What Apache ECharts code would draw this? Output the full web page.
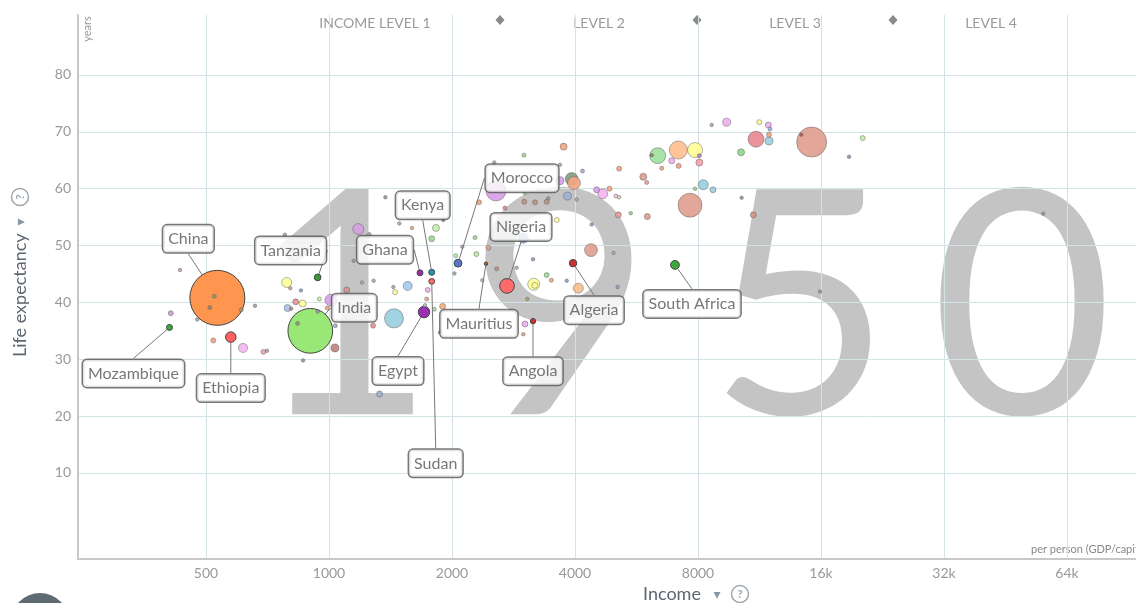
<!DOCTYPE html>
<html>
<head>
<meta charset="utf-8">
<script src="https://cdn.jsdelivr.net/npm/echarts@6/dist/echarts.min.js"></script>
<style>
  html, body { margin: 0; padding: 0; background: #fff; }
  #app { width: 1136px; height: 603px; }
</style>
</head>
<body>
<div id="app"></div>
<script>
const year = '1950';
const incomeTicks = [500, 1000, 2000, 4000, 8000, 16000, 32000, 64000];
const lifeTicks = [10, 20, 30, 40, 50, 60, 70, 80];
const levelNames = ['INCOME LEVEL 1', 'LEVEL 2', 'LEVEL 3', 'LEVEL 4'];

// countries with a callout
const labelNames = ['Mozambique', 'China', 'Ethiopia', 'Tanzania', 'India', 'Ghana', 'Kenya', 'Egypt',
  'Sudan', 'Mauritius', 'Morocco', 'Nigeria', 'Angola', 'Algeria', 'South Africa'];
const labelIncome = [407, 533, 575, 938, 900, 1670, 1784, 1708, 1784, 2422, 2069, 2727, 3157, 3956, 7027];
const labelLife = [35.6, 40.8, 33.9, 44.4, 35.0, 45.2, 45.3, 38.3, 43.7, 46.8, 46.9, 42.9, 36.7, 46.9, 46.6];
const labelPop = [6.5, 548, 20, 8, 362, 6.5, 6.5, 24, 6, 0.5, 11, 39, 5, 10, 14];

// all the other countries
const otherIncome = [432, 410, 524, 511, 610, 521, 616, 691, 705, 788, 804, 854, 829, 862, 792, 808, 947, 1011,
  990, 938, 1105, 1036, 1034, 1282, 864, 838, 1179, 1374, 1149, 1204, 1286, 1451, 1437, 1442, 1558, 1744, 1734,
  1717, 1897, 1810, 1869, 1330, 2372, 2573, 2880, 3410, 3500, 3170, 3190, 3057, 3018, 2990, 3818, 1596, 1827,
  1784, 1904, 1486, 2329, 2538, 3000, 2563, 2696, 2277, 2120, 2042, 2294, 2454, 2027, 3157, 2990, 3608, 3193,
  3410, 3006, 3441, 3018, 3675, 3752, 3926, 3977, 3675, 3835, 4039, 4173, 5130, 4377, 4970, 5476, 5105, 4519,
  4675, 4858, 5039, 5130, 4076, 5088, 4395, 8641, 9402, 11300, 11890, 12000, 11935, 11935, 11095, 15180, 14320,
  20240, 18740, 10197, 7868, 7160, 6373, 6898, 6520, 7176, 8061, 8061, 5877, 5992, 8242, 8705, 7868, 7648, 10232,
  10929, 6012, 15911, 55970, 659, 476, 1255, 780, 6164];
const otherLife = [45.7, 38.1, 41.1, 39.1, 38.7, 33.3, 32.0, 31.3, 31.5, 43.5, 42.5, 42.1, 40.1, 39.8, 39.0, 38.9,
  40.6, 40.4, 39.0, 38.4, 42.2, 35.9, 32.0, 35.9, 29.8, 36.3, 52.9, 58.5, 47.3, 43.5, 43.8, 41.8, 42.7, 37.2, 42.9,
  42.2, 40.6, 39.5, 39.3, 38.8, 34.7, 23.9, 43.9, 45.9, 46.1, 44.8, 43.9, 43.2, 43.0, 40.6, 36.2, 34.4, 43.8, 53.1,
  53.1, 51.2, 54.5, 53.9, 57.6, 64.6, 65.9, 59.6, 56.6, 51.4, 49.8, 48.2, 48.5, 49.6, 45.1, 47.6, 51.3, 54.5, 57.6,
  57.7, 57.7, 58.3, 59.2, 64.2, 67.4, 61.7, 61.0, 61.4, 58.7, 58.1, 63.1, 63.5, 49.2, 48.7, 55.7, 55.4, 59.8, 59.1,
  60.0, 58.7, 58.5, 42.5, 42.7, 53.7, 71.2, 71.7, 71.7, 71.2, 70.5, 69.5, 68.4, 68.7, 68.2, 69.5, 68.9, 65.6, 66.4,
  66.8, 66.8, 65.8, 64.9, 63.6, 64.0, 64.6, 65.8, 62.1, 61.1, 60.7, 59.8, 60.0, 57.1, 58.4, 55.4, 55.1, 41.9, 55.6,
  39.4, 37.0, 52.0, 51.9, 65.9];
const otherPop = [1.6, 4.5, 2.9, 2.9, 2.9, 4.5, 14.7, 4.5, 1.6, 18, 1.6, 1.6, 6.5, 8.9, 8.9, 1.6, 2.9, 26, 2.9, 1.6,
  6.5, 2.9, 11.6, 4.5, 1.6, 2.9, 22, 1.6, 1.6, 1.6, 1.6, 4.5, 1.6, 65, 14.7, 4.5, 2.9, 1.6, 6.5, 2.9, 1.6, 6.5, 1.6,
  2.9, 1.6, 4.5, 2.9, 26, 6.5, 1.6, 6.5, 1.6, 1.6, 1.6, 8.9, 6.5, 1.6, 1.6, 4.5, 1.6, 2.9, 72, 2.9, 2.9, 1.6, 2.9,
  4.5, 4.5, 1.6, 1.6, 18, 4.5, 4.5, 4.5, 4.5, 1.6, 1.6, 1.6, 8.9, 30, 30, 11.6, 11.6, 1.6, 2.9, 4.5, 30, 1.6, 1.6,
  6.5, 6.5, 18, 4.5, 2.9, 1.6, 18, 1.6, 1.6, 1.6, 11.6, 4.5, 6.5, 2.9, 4.5, 11.6, 46, 163, 1.6, 4.5, 1.6, 8.9, 40.7,
  58.7, 46, 6.5, 2.9, 4.5, 8.9, 2.9, 8.9, 2.9, 18, 6.5, 1.6, 104, 1.6, 6.5, 6.5, 1.6, 1.6, 1.6, 1.6, 1.6, 1.6, 1.6];

// styles
const labelColors = ['#3aa83a', '#ff9650', '#ff6060', '#3a9a3a', '#99e877', '#9a30a8', '#1a9aaa', '#9b30b0',
  '#ff6b6b', '#b06020', '#5577cc', '#ff6b6b', '#d03030', '#cc3333', '#3aaa3a'];
const otherColors = ['#c9a0a0', '#c8a0d8', '#8a9a78', '#9a8a6a', '#b09070', '#f4a582', '#f2b6f2', '#f4a0a0',
  '#a8a8b8', '#ffff99', '#d0a0a0', '#8fa0d0', '#e89090', '#ffffa0', '#a8c4f0', '#b88888', '#c8f0a8', '#d8a0e8',
  '#f4a582', '#999999', '#d09090', '#a0b0d0', '#c08080', '#e89090', '#999999', '#8a9a78', '#d4a0e0', '#999999',
  '#999999', '#aaaaaa', '#aaaaaa', '#ffff99', '#aaaaaa', '#99cfe0', '#a8c8f0', '#f0b0f0', '#f4a582', '#bbbbbb',
  '#f4b080', '#a8d898', '#c0a090', '#a0b0d0', '#a0d090', '#c09080', '#c8a8a0', '#a0d890', '#f4a582', '#ffff99',
  '#ffff99', '#a8a860', '#f0b0f0', '#e0a090', '#8fa0d0', '#f4a582', '#c8f0a8', '#a0d890', '#b08070', '#aaaaaa',
  '#f4a582', '#aaaaaa', '#a8d898', '#d8a0e8', '#f08080', '#a8d898', '#aaaaaa', '#b8e8a0', '#b8e8a0', '#e0a090',
  '#aaaaaa', '#b090c0', '#8fa8d8', '#ffff99', '#c09080', '#c09080', '#c09080', '#999999', '#a8d898', '#aaaaaa',
  '#f4a582', '#80a080', '#f4a582', '#d8a0e8', '#a0b0d0', '#aaaaaa', '#a0b0d0', '#f4a582', '#e0a090', '#a0b0c0',
  '#a0d090', '#e0a090', '#d8a0e8', '#f2b6f2', '#f4a582', '#f0c0f0', '#c8e0a0', '#f8c090', '#b090c0', '#8fa0d0',
  '#aaaaaa', '#f0b0f0', '#ffff99', '#f0b0f0', '#a0b0e0', '#f4a582', '#99cfe0', '#e88890', '#e0a090', '#b06050',
  '#c8f0a8', '#a090b0', '#90d890', '#ffff99', '#ffc090', '#a0e0a0', '#f0b0f0', '#f4a582', '#f4a582', '#f8a0a8',
  '#b080c0', '#e0a090', '#f0a0a0', '#99cfe0', '#99cfe0', '#a0d090', '#e0a090', '#999999', '#d89080', '#e0a090',
  '#999999', '#999999', '#99aa99', '#aaaaaa', '#aaaaaa', '#aaaaaa', '#a08060'];
// where each callout box sits, relative to its bubble
const labelOffsets = {
  Mozambique: [-36, 46], China: [-29, -59], Ethiopia: [0, 51], Tanzania: [-27, -27], India: [44, -23],
  Ghana: [-35, -23], Kenya: [-9, -67], Egypt: [-26, 59], Sudan: [4, 182], Mauritius: [-7, 60],
  Morocco: [64, -85], Nigeria: [14, -59], Angola: [0, 50], Algeria: [21, 47], 'South Africa': [17, 39],
};

const FONT = 'Lato, "Open Sans", sans-serif';
const bubble = (pop) => Math.max(3.5, 2.35 * Math.sqrt(pop));
const log2 = (v) => Math.log(v) / Math.LN2;

const otherData = otherIncome
  .map((inc, i) => ({
    value: [log2(inc), otherLife[i], otherPop[i]],
    itemStyle: { color: otherColors[i] },
  }))
  .sort((a, b) => b.value[2] - a.value[2]);

const labeledData = labelNames.map((name, i) => ({
  name,
  value: [log2(labelIncome[i]), labelLife[i], labelPop[i]],
  itemStyle: { color: labelColors[i] },
}));

const eChart = echarts.init(document.getElementById('app'));

const digitX = [344, 560, 800, 1022];
const levelX = [375, 599, 795, 991];
const diamondX = [500, 697, 893];

const graphics = [];
year.split('').forEach((d, i) => {
  graphics.push({
    type: 'text', x: digitX[i], y: 313, z: -10,
    style: { text: d, font: '314px ' + FONT, fill: '#c4c4c4', textAlign: 'center', textVerticalAlign: 'middle' },
  });
});
levelNames.forEach((t, i) => {
  graphics.push({
    type: 'text', x: levelX[i], y: 23,
    style: { text: t, font: '14px ' + FONT, fill: '#9a9a9a', textAlign: 'center', textVerticalAlign: 'middle' },
  });
});
diamondX.forEach((x) => {
  graphics.push({
    type: 'polygon',
    shape: { points: [[x, 15], [x + 4.5, 20], [x, 25], [x - 4.5, 20]] },
    style: { fill: '#8a8a8a' },
  });
});
// axis titles
graphics.push(
  {
    type: 'text', x: 643, y: 594,
    style: { text: 'Income', font: '18px ' + FONT, fill: '#5c6670', textAlign: 'left', textVerticalAlign: 'middle' },
  },
  {
    type: 'text', x: 717, y: 595,
    style: { text: '▾', font: '14px "DejaVu Sans"', fill: '#8a96a0', textAlign: 'center', textVerticalAlign: 'middle' },
  },
  {
    type: 'circle', shape: { cx: 740, cy: 594, r: 8.5 },
    style: { fill: 'none', stroke: '#a0a8ae', lineWidth: 1.5 },
  },
  {
    type: 'text', x: 740, y: 594.5,
    style: { text: '?', font: 'bold 12px ' + FONT, fill: '#a0a8ae', textAlign: 'center', textVerticalAlign: 'middle' },
  },
  {
    type: 'group', x: 20, y: 290, rotation: Math.PI / 2,
    children: [
      {
        type: 'text', x: -67, y: 0,
        style: { text: 'Life expectancy', font: '18px ' + FONT, fill: '#5c6670', textAlign: 'left', textVerticalAlign: 'middle' },
      },
      {
        type: 'text', x: 68, y: 1,
        style: { text: '▾', font: '14px "DejaVu Sans"', fill: '#8a96a0', textAlign: 'center', textVerticalAlign: 'middle' },
      },
      {
        type: 'circle', shape: { cx: 93, cy: 0, r: 8.5 },
        style: { fill: 'none', stroke: '#a0a8ae', lineWidth: 1.5 },
      },
      {
        type: 'text', x: 93, y: 0.5,
        style: { text: '?', font: 'bold 12px ' + FONT, fill: '#a0a8ae', textAlign: 'center', textVerticalAlign: 'middle' },
      },
    ],
  },
  {
    type: 'group', x: 87.5, y: 29, rotation: Math.PI / 2,
    children: [{
      type: 'text', x: 0, y: 0,
      style: { text: 'years', font: '11px ' + FONT, fill: '#999', textAlign: 'center', textVerticalAlign: 'middle' },
    }],
  },
  {
    type: 'text', x: 1031, y: 549,
    style: { text: 'per person (GDP/capita, PPP$ inflation-adjusted)', font: '11px ' + FONT, fill: '#888', textAlign: 'left', textVerticalAlign: 'middle' },
  },
  {
    type: 'circle', shape: { cx: 40, cy: 622, r: 29 },
    style: { fill: '#5f6b73' },
  }
);

const xTickValues = incomeTicks.map(log2);

const option = {
  animation: false,
  backgroundColor: '#fff',
  grid: { left: 78, right: 0, top: 15, bottom: 44, outerBoundsMode: 'none' },
  xAxis: {
    type: 'value',
    min: log2(500) - 128 / 123,
    max: log2(500) + 930 / 123,
    axisLine: { show: true, onZero: false, lineStyle: { color: '#c8c8c8', width: 2 } },
    axisTick: { show: false, customValues: xTickValues },
    axisLabel: {
      customValues: xTickValues,
      color: '#999', fontSize: 14, fontFamily: FONT, margin: 7,
      formatter: (v) => {
        const inc = Math.round(Math.pow(2, v));
        return inc >= 16000 ? inc / 1000 + 'k' : String(inc);
      },
    },
    splitLine: { show: true, lineStyle: { color: '#d3e2e4', width: 1 } },
  },
  yAxis: {
    type: 'value',
    min: -5.13,
    max: 90.55,
    axisLine: { show: true, onZero: false, lineStyle: { color: '#c8c8c8', width: 2 } },
    axisTick: { show: false, customValues: lifeTicks },
    axisLabel: { customValues: lifeTicks, color: '#999', fontSize: 14, fontFamily: FONT, margin: 7 },
    splitLine: { show: true, lineStyle: { color: '#d3e2e4', width: 1 } },
  },
  graphic: graphics,
  series: [
    {
      // highlighted countries, drawn under the rest
      type: 'scatter',
      z: 2,
      data: labeledData,
      symbolSize: (val) => bubble(val[2]),
      itemStyle: { borderColor: '#444', borderWidth: 1, opacity: 1 },
      emphasis: { disabled: true },
      silent: true,
    },
    {
      type: 'scatter',
      z: 3,
      data: otherData,
      symbolSize: (val) => bubble(val[2]),
      itemStyle: { borderColor: 'rgba(90,90,90,0.5)', borderWidth: 1, opacity: 0.92 },
      emphasis: { disabled: true },
      silent: true,
    },
    {
      // callouts for the highlighted countries
      type: 'scatter',
      z: 4,
      data: labeledData.map((d) => ({ name: d.name, value: d.value })),
      symbolSize: (val) => bubble(val[2]),
      itemStyle: { color: 'rgba(0,0,0,0)', borderWidth: 0 },
      emphasis: { disabled: true },
      silent: true,
      label: {
        show: true,
        position: 'inside',
        formatter: '{b}',
        color: '#555',
        fontFamily: FONT,
        fontSize: 16,
        backgroundColor: '#fff',
        borderColor: '#555',
        borderWidth: 1.5,
        borderRadius: 4,
        padding: [6, 5, 5, 5],
      },
      labelLine: { show: true, lineStyle: { color: '#777', width: 1 } },
      labelLayout: (params) => {
        const off = labelOffsets[labelNames[params.dataIndex]];
        return { dx: off[0], dy: off[1] };
      },
    },
  ],
};

eChart.setOption(option);
</script>
</body>
</html>
